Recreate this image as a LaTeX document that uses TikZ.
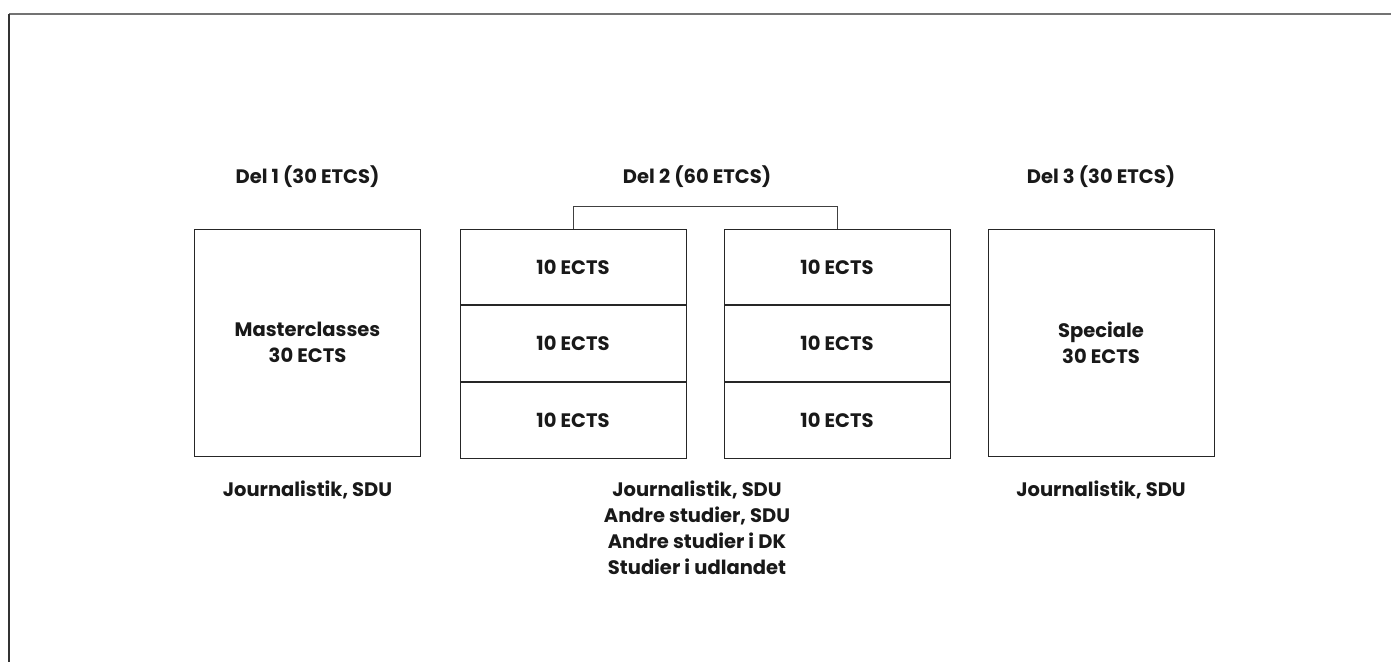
\documentclass[tikz,border=0pt]{standalone}
\usepackage{fontspec}
\setmainfont{Poppins}
\begin{document}
\begin{tikzpicture}[x=1pt,y=1pt,
  txt/.style={font=\fontsize{19.5}{26}\selectfont\bfseries, text=black!90, align=center, inner sep=0pt},
  bigbox/.style={draw=black!85, line width=0.9pt, minimum width=226pt, minimum height=227pt, inner sep=0pt, txt},
  cell/.style={draw=black!85, line width=0.9pt, minimum width=226pt, minimum height=75.7pt, inner sep=0pt, txt},
  frame/.style={draw=black!55, line width=1.6pt},
  link/.style={draw=black!75, line width=0.9pt}]
\useasboundingbox (0,0) rectangle (1391,-662);
\coordinate (ftl) at (9,-14);
\coordinate (ftr) at (1391,-14);
\coordinate (fbl) at (9,-662);
\draw[frame] (ftr) -- (ftl);
\draw[draw=black!80, line width=1.4pt] (ftl) -- (fbl);

\node[bigbox] (p1) at (307.5,-342.5) {Masterclasses\\30 ECTS};
\node[bigbox] (p3) at (1101,-342.5) {Speciale\\30 ECTS};

\node[cell] (a1) at (573,-267) {10 ECTS};
\node[cell, anchor=north] (a2) at (a1.south) {10 ECTS};
\node[cell, anchor=north] (a3) at (a2.south) {10 ECTS};
\node[cell] (b1) at (837,-267) {10 ECTS};
\node[cell, anchor=north] (b2) at (b1.south) {10 ECTS};
\node[cell, anchor=north] (b3) at (b2.south) {10 ECTS};

\draw[link] (a1.north) -- ++(0,22) -| (b1.north);

\node[txt] (h1) at (307.5,-177) {Del 1 (30 ETCS)};
\node[txt] (h2) at (697,-177) {Del 2 (60 ETCS)};
\node[txt] (h3) at (1101,-177) {Del 3 (30 ETCS)};

\node[txt, anchor=north] (f1) at (307.5,-481) {Journalistik, SDU};
\node[txt, anchor=north] (f2) at (697,-481) {Journalistik, SDU\\Andre studier, SDU\\Andre studier i DK\\Studier i udlandet};
\node[txt, anchor=north] (f3) at (1101,-481) {Journalistik, SDU};
\end{tikzpicture}
\end{document}
